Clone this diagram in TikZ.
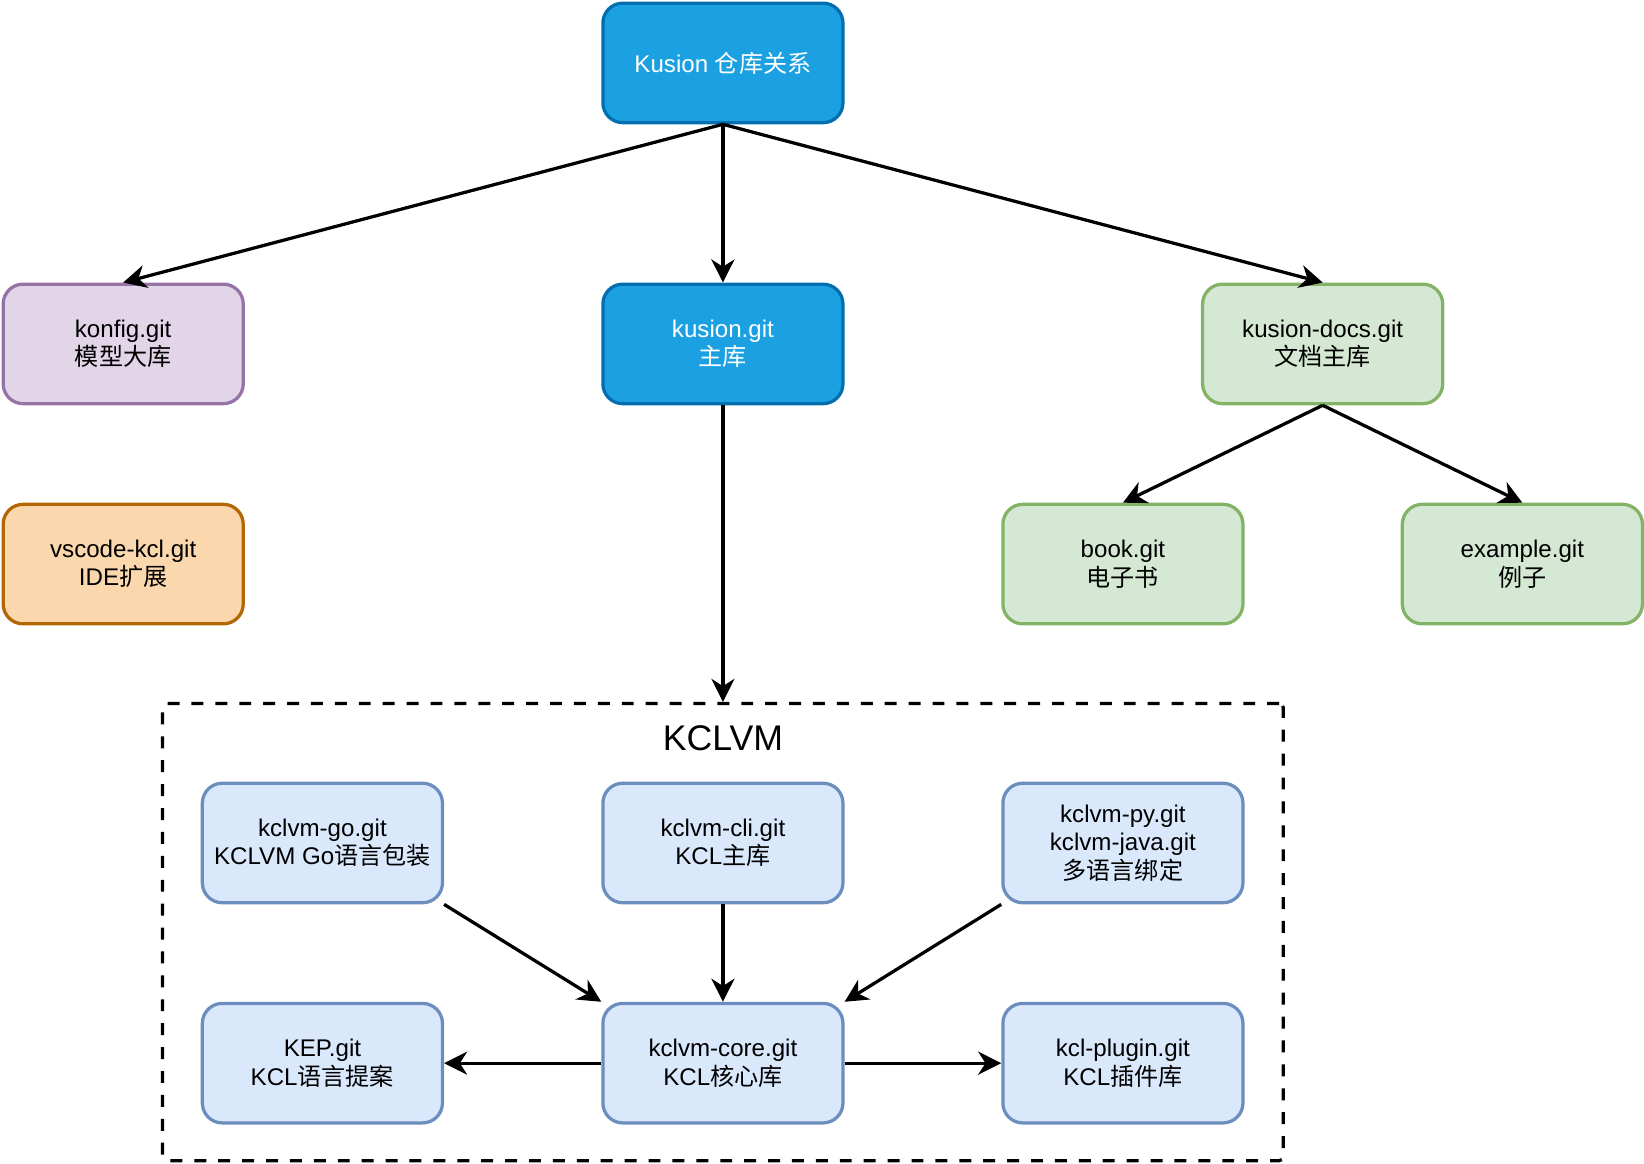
\documentclass[tikz,border=0pt]{standalone}
\usepackage{fontspec}
\setmainfont{Liberation Sans}
\newfontfamily\cjk{Noto Sans CJK SC}
\usepackage{tikz}
\usetikzlibrary{arrows.meta}

\definecolor{kusionfill}{HTML}{1BA1E2}
\definecolor{kusionline}{HTML}{006EAF}
\definecolor{konfigfill}{HTML}{E1D5E7}
\definecolor{konfigline}{HTML}{9673A6}
\definecolor{docsfill}{HTML}{D5E8D4}
\definecolor{docsline}{HTML}{82B366}
\definecolor{idefill}{HTML}{FAD7AC}
\definecolor{ideline}{HTML}{B46504}
\definecolor{kclfill}{HTML}{DAE8FC}
\definecolor{kclline}{HTML}{6C8EBF}

\begin{document}
\begin{tikzpicture}[x=0.5pt,y=-0.5pt,line width=1.55pt,>={Stealth[length=11pt,width=11pt,inset=3.5pt]}]
                \tikzstyle{repo}=[rectangle,rounded corners=9.5pt,draw,line width=1.55pt,minimum width=114.5pt,minimum height=57pt,inner sep=0pt,align=center,font=\fontsize{11.5}{13.5}\selectfont]
                \tikzstyle{mainrepo}=[repo,fill=kusionfill,draw=kusionline,text=white]
                \tikzstyle{kclrepo}=[repo,fill=kclfill,draw=kclline]
                \useasboundingbox (0,0) rectangle (1568,1110);

                \node[mainrepo] (top) at (689.5,60) {Kusion {\cjk 仓库关系}};
                \node[mainrepo] (kusion) at (689.5,328) {kusion.git\\{\cjk 主库}};
                \node[repo,fill=konfigfill,draw=konfigline] (konfig) at (117.5,328) {konfig.git\\{\cjk 模型大库}};
                \node[repo,fill=docsfill,draw=docsline] (docs) at (1261.5,328) {kusion-docs.git\\{\cjk 文档主库}};
                \node[repo,fill=idefill,draw=ideline] (vscode) at (117.5,538) {vscode-kcl.git\\IDE{\cjk 扩展}};
                \node[repo,fill=docsfill,draw=docsline] (book) at (1071,538) {book.git\\{\cjk 电子书}};
                \node[repo,fill=docsfill,draw=docsline] (example) at (1452,538) {example.git\\{\cjk 例子}};

                % KCLVM group
                \node[draw,dashed,dash pattern=on 5.7pt off 5.7pt,rounded corners=2pt,minimum width=534.5pt,minimum height=218pt,inner sep=0pt] (kclvm) at (689.5,889) {};
                \node[font=\fontsize{17}{20}\selectfont] (kclvm-title) at (689.5,704) {KCLVM};

                \foreach \name/\x/\y/\txt in {go/307.5/804/{kclvm-go.git\\KCLVM Go{\cjk 语言包装}},
                        cli/689.5/804/{kclvm-cli.git\\KCL{\cjk 主库}},
                        py/1071/804/{kclvm-py.git\\kclvm-java.git\\{\cjk 多语言绑定}},
                        kep/307.5/1014/{KEP.git\\KCL{\cjk 语言提案}},
                        core/689.5/1014/{kclvm-core.git\\KCL{\cjk 核心库}},
                        plugin/1071/1014/{kcl-plugin.git\\KCL{\cjk 插件库}}}
                        \node[kclrepo] (\name) at (\x,\y) {\txt};

                \foreach \from/\to in {top/konfig, top/kusion, top/docs, docs/book, docs/example, kusion/kclvm, cli/core}
                        \draw[->] (\from.south) -- (\to.north);

                \draw[->] (go.south east) -- (core.north west);
                \draw[->] (py.south west) -- (core.north east);
                \draw[->] (core.west) -- (kep.east);
                \draw[->] (core.east) -- (plugin.west);
\end{tikzpicture}
\end{document}
